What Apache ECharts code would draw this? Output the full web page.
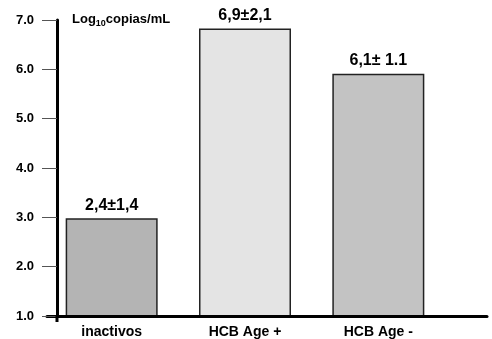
<!DOCTYPE html>
<html>
<head>
<meta charset="utf-8">
<script src="https://cdn.jsdelivr.net/npm/echarts@6/dist/echarts.min.js"></script>
<style>html,body{margin:0;padding:0;background:#fff}#c{width:492px;height:339px}</style>
</head>
<body>
<div id="c"></div>
<script>
var categories = ['inactivos', 'HCB Age +', 'HCB Age -'];
var values = [2.98, 6.83, 5.91];
var barLabels = ['2,4±1,4', '6,9±2,1', '6,1± 1.1'];
var yTicks = [1, 2, 3, 4, 5, 6, 7];
var barColors = ['#b4b4b4', '#e4e4e4', '#c3c3c3'];

var FONT = '"Liberation Sans", Arial, sans-serif';
var chart = echarts.init(document.getElementById('c'), null, {renderer: 'canvas'});
chart.setOption({
  animation: false,
  backgroundColor: '#ffffff',
  title: {
    text: '{a|Log}{s|10}{a|copias/mL}',
    left: 67, top: 7,
    textStyle: {
      rich: {
        a: {fontFamily: FONT, fontWeight: 'bold', fontSize: 13, color: '#000', verticalAlign: 'bottom', lineHeight: 14},
        s: {fontFamily: FONT, fontWeight: 'bold', fontSize: 9, color: '#000', verticalAlign: 'bottom', lineHeight: 10, padding: [0, 0, -2, 0]}
      }
    }
  },
  graphic: [{
    type: 'line', z: 100,
    shape: {x1: 57, y1: 316, x2: 57, y2: 322},
    style: {stroke: '#000', lineWidth: 3}
  }],
  grid: [
    {left: 47, right: 5, top: 20, bottom: 23},
    {left: 45, width: 400, top: 20, bottom: 23}
  ],
  xAxis: [
    {
      gridIndex: 0, type: 'value', min: 0, max: 1, z: 10,
      axisLine: {show: true, lineStyle: {color: '#000', width: 3}},
      axisTick: {show: false}, axisLabel: {show: false}, splitLine: {show: false}
    },
    {
      gridIndex: 1, type: 'category', data: categories,
      axisLine: {show: false}, axisTick: {show: false},
      axisLabel: {margin: 9, fontFamily: FONT, fontWeight: 'bold', fontSize: 14, color: '#000'}
    }
  ],
  yAxis: [
    {
      gridIndex: 0, type: 'value', min: yTicks[0], max: yTicks[yTicks.length - 1], interval: 1,
      offset: -10, z: 10,
      axisLine: {show: true, lineStyle: {color: '#000', width: 3}},
      axisTick: {show: true, length: 15, lineStyle: {color: '#555', width: 1}},
      axisLabel: {margin: 23, fontFamily: FONT, fontWeight: 'bold', fontSize: 13, color: '#000',
        formatter: function (v) { return v.toFixed(1); }},
      splitLine: {show: false}
    },
    {
      gridIndex: 1, type: 'value', min: yTicks[0], max: yTicks[yTicks.length - 1], interval: 1,
      show: false, splitLine: {show: false}
    }
  ],
  series: [{
    type: 'bar',
    xAxisIndex: 1, yAxisIndex: 1,
    barWidth: 92,
    data: values.map(function (v, i) {
      return {value: v, itemStyle: {color: barColors[i]},
        label: {formatter: barLabels[i]}};
    }),
    itemStyle: {borderColor: '#222', borderWidth: 1.5},
    label: {show: true, position: 'top', distance: 5,
      fontFamily: FONT, fontWeight: 'bold', fontSize: 16, color: '#000'}
  }]
});
</script>
</body>
</html>
